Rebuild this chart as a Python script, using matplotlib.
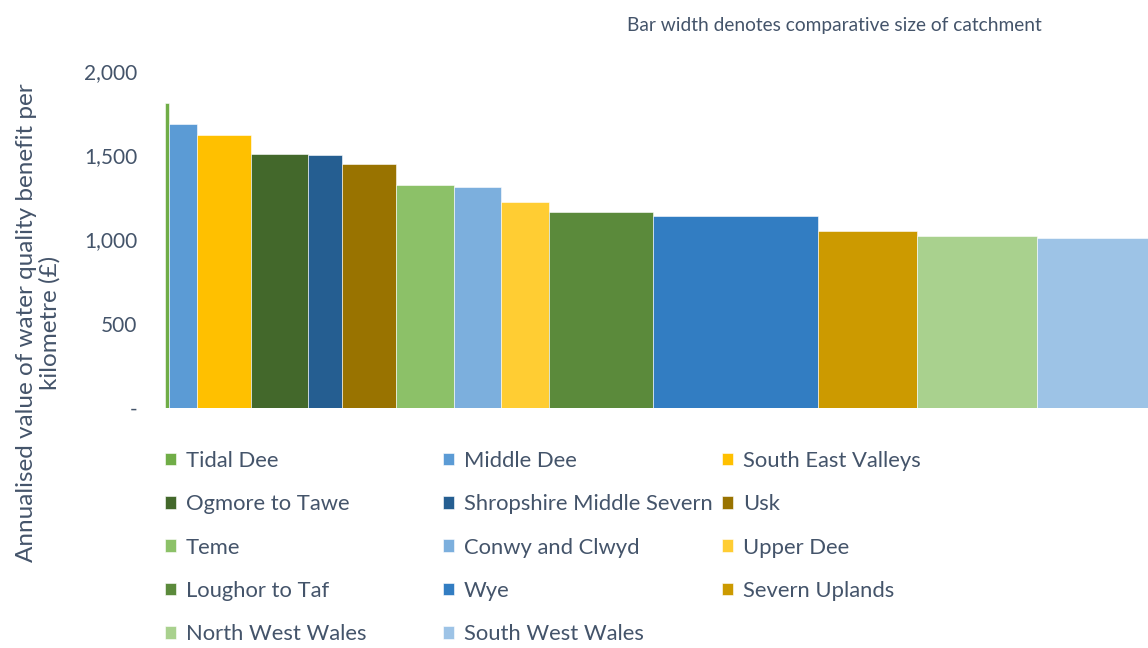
import numpy as np
import matplotlib
matplotlib.use("Agg")
import matplotlib.pyplot as plt
from matplotlib.ticker import FuncFormatter

plt.rcParams['font.family'] = ['Lato', 'DejaVu Sans']

# Catchments, value per km (GBP) and relative catchment size (bar width)
catchments = ["Tidal Dee", "Middle Dee", "South East Valleys", "Ogmore to Tawe",
              "Shropshire Middle Severn", "Usk", "Teme", "Conwy and Clwyd",
              "Upper Dee", "Loughor to Taf", "Wye", "Severn Uplands",
              "North West Wales", "South West Wales"]
values = [1810, 1686, 1621, 1510, 1500, 1448, 1321, 1311, 1224, 1165, 1137,
          1049, 1018, 1006]
sizes = [4.3, 28, 53.4, 57.6, 34, 54, 57.7, 46.7, 48, 104.6, 165, 98.7,
         120.3, 110.7]
colors = ["#70AD47", "#5B9BD5", "#FFC000", "#43682B", "#255E91", "#997300",
          "#8CC168", "#7CAFDD", "#FFCD33", "#5B8A3B", "#327DC2", "#CC9A00",
          "#A9D18E", "#9DC3E6"]

text_col = "#44546A"

fig = plt.figure(figsize=(11.48, 6.48), dpi=100)
ax = fig.add_axes([165 / 1148, 1 - 408 / 648, 1 - 165 / 1148, (408 - 71) / 648])

lefts = np.concatenate([[0], np.cumsum(sizes)[:-1]])
handles = []
for i in range(len(catchments)):
    b = ax.bar(lefts[i], values[i], width=sizes[i], align="edge",
               color=colors[i], edgecolor="white", linewidth=0.4,
               label=catchments[i])
    handles.append(b)

ax.set_xlim(0, sum(sizes))
ax.set_ylim(0, 2000)
ax.set_yticks([0, 500, 1000, 1500, 2000])
ax.yaxis.set_major_formatter(FuncFormatter(lambda v, p: "-" if v == 0 else f"{v:,.0f}"))
ax.tick_params(axis="y", length=0, pad=20, labelsize=15, labelcolor=text_col)
ax.set_xticks([])
for s in ax.spines.values():
    s.set_visible(False)

fig.text(38 / 1148, 1 - 323 / 648,
         "Annualised value of water quality benefit per\nkilometre (£)",
         rotation=90, ha="center", va="center", multialignment="center",
         fontsize=17.5, color=text_col, linespacing=1.1)

fig.text(834 / 1148, 1 - 25 / 648, "Bar width denotes comparative size of catchment",
         ha="center", va="center", fontsize=13.8, color=text_col)

# legend in three columns, filled row by row
col_x = [165, 443, 722]
for c in range(3):
    hs = handles[c::3]
    fig.legend(hs, [h.get_label() for h in hs], loc="upper left",
               bbox_to_anchor=(col_x[c] / 1148, 1 - 451 / 648),
               frameon=False, fontsize=15.8, labelcolor=text_col,
               handlelength=0.5, handleheight=0.5, handletextpad=0.45,
               labelspacing=1.06, borderpad=0, borderaxespad=0)

fig.savefig("out.png", dpi=100)
